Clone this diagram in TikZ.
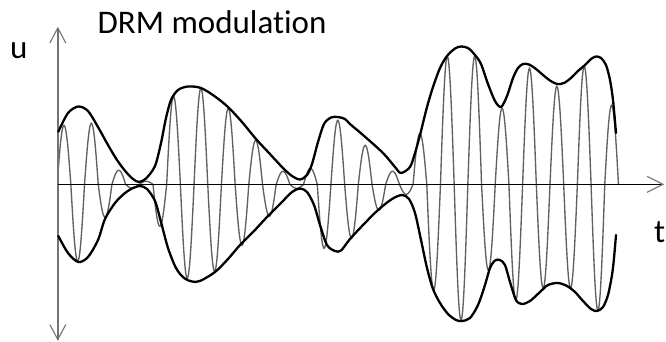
\documentclass[tikz,border=0pt]{standalone}
\usepackage{fontspec}
\setmainfont[Ligatures=NoCommon]{Carlito}
\begin{document}
\begin{tikzpicture}[x=1pt,y=-1pt,
  env/.style={line width=2.3pt, black, line cap=round, line join=round},
  carrier/.style={line width=1.35pt, black!62},
  yaxisline/.style={line width=1.4pt, black!55},
  xaxisline/.style={line width=1.2pt, black},
  headline/.style={line width=1.1pt, black!55},
  lbl/.style={font=\fontsize{33}{38}\selectfont, inner sep=0pt, anchor=base west}]
\useasboundingbox (0,0) rectangle (666,341);

% carrier
\foreach \j/\A in {0/59,1/77,2/61,3/33,4/14,5/4,6/3,7/42,8/88,9/94,10/96,11/87,12/76,13/61,14/44,15/32,16/13,17/4,18/16,19/64,20/64,21/54,22/39,23/26,24/13,25/10,26/51,27/106,28/128,29/136,30/128,31/86,32/76,33/116,34/116,35/104,36/98,37/104,38/118,39/126,40/79}{
  \pgfmathsetmacro\c{64+13.69*\j}
  \pgfmathsetmacro\lo{max(58,\c-6.845)}
  \pgfmathsetmacro\hi{\c+6.845}
  \pgfmathsetmacro\s{ifthenelse(mod(\j,2)==0,1,-1)}
  \draw[carrier] plot[domain=\lo:\hi, samples=21, smooth] (\x,{184.3-\s*\A*cos(180*(\x-\c)/13.69)});
}

% axes
\coordinate (ytop) at (57.8,28);
\coordinate (ybot) at (57.8,339.5);
\coordinate (xleft) at (57.8,184.3);
\coordinate (xright) at (663,184.3);
\draw[yaxisline] (ybot) -- (ytop);
\draw[xaxisline] (xleft) -- (xright);
\draw[headline] (ytop) ++(-8,15) -- (ytop) -- ++(8,15);
\draw[headline] (ybot) ++(-8,-15) -- (ybot) -- ++(8,-15);
\draw[headline] (xright) ++(-16,-8) -- (xright) -- ++(-16,8);

% envelope upper
\draw[env] plot[smooth, tension=0.5] coordinates {
(58.3,131.7) (68,113) (78.3,106.5) (88,111) (98,127) (108,145) (117,160) (126,172) (133,179) (139,182) (146,178.5) (155,166) (161,143) (166,118) (171,100) (178,90) (188,86.5) (201,88) (215,96.5) (228,107) (242,122) (256,139) (269,153) (283,168) (292,176) (300,179.5) (307,175) (312,164) (318,142) (324,124) (331,117.5) (338,117) (345,119) (350,124) (363,135) (383,153) (395,167) (401,173) (410,167) (415,153) (420,135) (427,107) (433,87) (440,68) (447,56) (455,48.5) (461,46.5) (468,48) (475,55) (481,64) (488,84) (495,101) (501,107) (507,96) (513,78) (518,68) (523,64) (529,64.5) (536,69) (543,75) (550,80.5) (557,84) (564,83) (571,78) (578,71) (585,65) (591,59) (596,56.5) (601,58) (606,65) (610,80) (613,100) (616,133)};

% envelope lower
\draw[env] plot[smooth, tension=0.5] coordinates {
(58.3,236) (68,253) (78.3,262) (88,257) (98,240) (105,219) (115,203) (125,193) (133,188) (140,186) (147,189) (155,201) (161,222) (168,248) (176,268) (184,278) (192,281.5) (200,281) (215,272) (228,259) (240,245) (254,231) (267,217) (281,203) (292,192) (300,188.5) (307,192) (314,205) (320,225) (327,245) (335,251) (341,250.5) (350,239) (364,224) (378,210) (392,199) (402,195) (409,199) (415,213) (421,240) (427,268) (433,289) (440,303) (448,314) (456,320) (462,321) (470,318) (478,305) (485,285) (490,268) (495,260.5) (500,260) (505,265) (510,282) (516,300) (522,304) (530,301) (540,292) (548,285) (558,283) (567,286) (575,292) (583,301) (591,309) (597,311) (603,307) (608,295) (612,275) (614,258) (616,235)};

% labels
\node[lbl] (title) at (97.5,33) {DRM modulation};
\node[lbl] (ulabel) at (10,58) {u};
\node[lbl] (tlabel) at (654,242) {t};
\end{tikzpicture}
\end{document}
